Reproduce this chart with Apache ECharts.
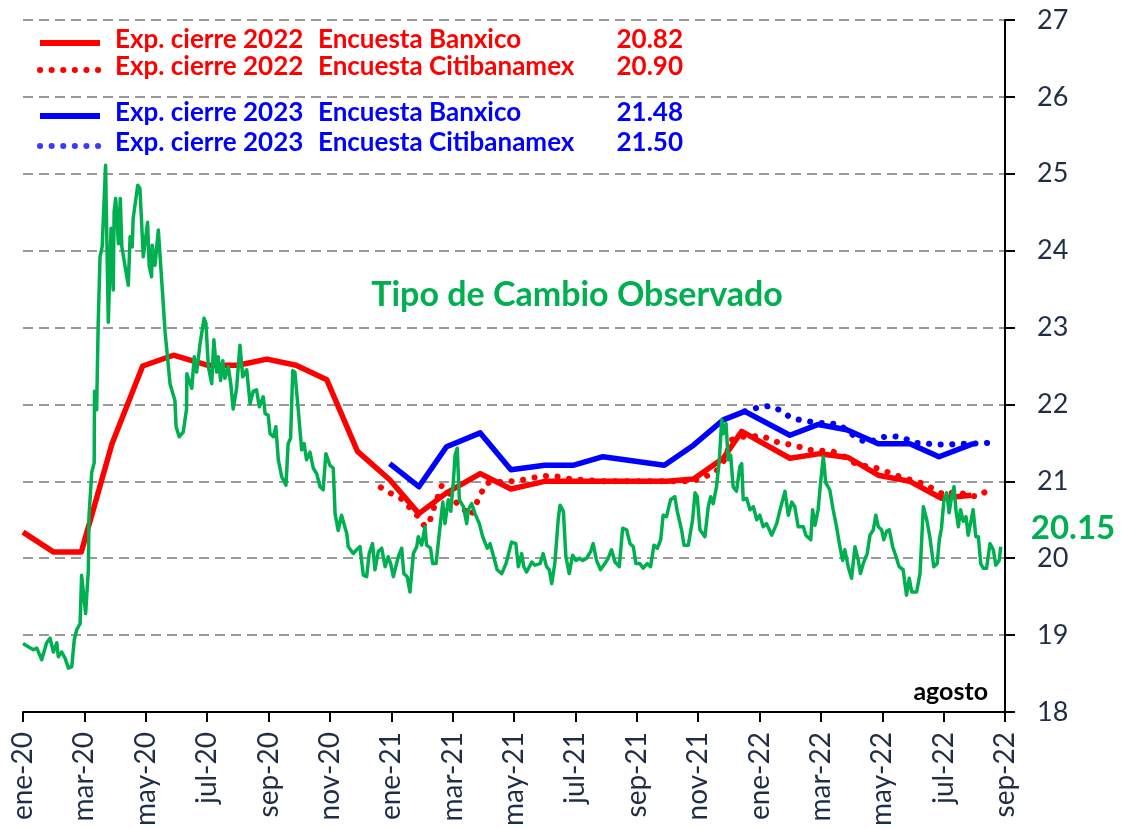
<!DOCTYPE html>
<html>
<head>
<meta charset="utf-8">
<script src="https://cdn.jsdelivr.net/npm/echarts@6/dist/echarts.min.js"></script>
<style>
html,body{margin:0;padding:0;background:#fff;}
#chart{width:1122px;height:829px;}
</style>
</head>
<body>
<div id="chart"></div>
<script>
// x values are months elapsed since 1 Jan 2020 (0 = ene-20, 32 = sep-22)
const xTickLabels = ['ene-20','mar-20','may-20','jul-20','sep-20','nov-20','ene-21','mar-21','may-21','jul-21','sep-21','nov-21','ene-22','mar-22','may-22','jul-22','sep-22'];
const yTicks = [18, 27, 1]; // min, max, step

const legendRows = [
  {a:'Exp. cierre 2022', b:'Encuesta Banxico', v:'20.82'},
  {a:'Exp. cierre 2022', b:'Encuesta Citibanamex', v:'20.90'},
  {a:'Exp. cierre 2023', b:'Encuesta Banxico', v:'21.48'},
  {a:'Exp. cierre 2023', b:'Encuesta Citibanamex', v:'21.50'}
];
const lastFx = '20.15';

const banxico2022 = [[0,20.34],[1,20.08],[1.9,20.08],[2.9,21.49],[3.9,22.50],[4.9,22.64],[6,22.51],[7,22.51],[7.95,22.59],[8.9,22.51],[9.9,22.32],[10.9,21.39],[11.95,21.02],[12.9,20.58],[13.8,20.85],[14.9,21.10],[15.9,20.90],[17,21.00],[18,21.00],[19,21.00],[20,21.00],[21,21.00],[21.85,21.03],[22.82,21.30],[23.42,21.65],[24.99,21.30],[25.97,21.36],[26.89,21.31],[27.87,21.08],[28.9,21.00],[29.93,20.78],[30.91,20.82]];

const citi2022 = [[11.66,20.92],[12.0,20.84],[12.34,20.77],[12.88,20.54],[13.1,20.41],[13.26,20.49],[13.37,20.63],[13.5,20.78],[13.64,20.94],[13.8,20.91],[14.0,20.77],[14.29,20.66],[14.59,20.55],[14.76,20.70],[14.92,20.84],[15.11,20.98],[15.89,21.00],[16.28,21.02],[16.68,21.05],[17.06,21.07],[17.47,21.06],[17.85,21.03],[19,21.0],[20.5,21.0],[21.79,21.0],[22.55,21.11],[22.82,21.25],[23.09,21.54],[23.47,21.58],[24.1,21.59],[24.47,21.52],[25.21,21.46],[25.59,21.41],[26.38,21.39],[26.73,21.33],[27.17,21.22],[27.84,21.17],[28.58,21.06],[29.34,20.97],[30.04,20.82],[30.4,20.87],[30.77,20.82],[31.13,20.80],[31.49,20.90]];

const banxico2023 = [[11.95,21.23],[12.9,20.93],[13.8,21.45],[14.9,21.63],[15.9,21.15],[17,21.21],[17.95,21.21],[18.9,21.32],[20.9,21.21],[21.85,21.47],[22.82,21.80],[23.52,21.91],[24.99,21.60],[25.92,21.74],[26.84,21.67],[27.87,21.49],[28.9,21.49],[29.85,21.32],[30.97,21.49]];

const citi2023 = [[23.52,21.91],[23.96,21.96],[24.34,21.98],[24.7,21.92],[25.01,21.83],[25.39,21.79],[25.78,21.77],[26.19,21.75],[26.57,21.75],[26.89,21.65],[27.22,21.55],[27.54,21.50],[27.92,21.57],[28.3,21.59],[28.66,21.57],[29.06,21.50],[29.45,21.49],[29.82,21.48],[30.23,21.48],[30.62,21.49],[30.96,21.49],[31.42,21.50]];

const tipoCambio = [[0,18.89],[0.17,18.85],[0.34,18.81],[0.45,18.83],[0.61,18.68],[0.77,18.90],[0.88,18.96],[0.99,18.78],[1.10,18.90],[1.15,18.72],[1.26,18.78],[1.37,18.70],[1.48,18.57],[1.59,18.59],[1.67,18.94],[1.75,19.07],[1.86,19.15],[1.91,19.78],[2.04,19.28],[2.13,19.85],[2.15,20.54],[2.24,21.12],[2.32,21.24],[2.33,22.17],[2.40,21.93],[2.45,23.05],[2.51,23.92],[2.58,24.05],[2.69,25.11],[2.78,23.07],[2.87,24.29],[2.94,23.49],[2.97,24.51],[3.02,24.68],[3.11,24.09],[3.17,24.68],[3.22,24.05],[3.43,23.55],[3.49,24.18],[3.56,24.05],[3.59,24.42],[3.74,24.85],[3.81,24.81],[3.92,23.92],[4.06,24.37],[4.11,23.81],[4.19,23.66],[4.21,24.07],[4.30,23.81],[4.41,24.27],[4.57,23.31],[4.63,22.94],[4.73,22.53],[4.79,22.27],[4.95,22.05],[4.99,21.71],[5.09,21.58],[5.22,21.64],[5.33,21.94],[5.34,22.40],[5.39,22.42],[5.50,22.21],[5.58,22.62],[5.66,22.42],[5.77,22.79],[5.90,23.12],[5.96,23.06],[6.04,22.49],[6.15,22.27],[6.22,22.84],[6.31,22.42],[6.36,22.62],[6.44,22.31],[6.51,22.57],[6.58,22.34],[6.69,22.49],[6.77,22.27],[6.85,21.94],[6.96,22.21],[7.07,22.77],[7.16,22.36],[7.29,22.45],[7.40,22.01],[7.50,22.17],[7.61,22.19],[7.70,21.97],[7.83,22.10],[7.89,21.88],[7.99,21.86],[8.05,21.62],[8.16,21.58],[8.24,21.71],[8.32,21.28],[8.43,21.06],[8.57,20.95],[8.64,21.49],[8.72,21.56],[8.79,22.44],[8.86,22.42],[8.97,21.93],[9.08,21.41],[9.16,21.49],[9.24,21.28],[9.35,21.38],[9.46,21.17],[9.57,21.10],[9.68,20.93],[9.78,20.89],[9.87,21.36],[10.00,21.21],[10.11,21.17],[10.17,20.58],[10.27,20.36],[10.38,20.56],[10.55,20.32],[10.60,20.15],[10.76,20.06],[10.87,20.11],[10.98,20.15],[11.09,19.78],[11.20,19.76],[11.28,20.06],[11.39,20.19],[11.47,19.85],[11.58,20.09],[11.69,20.13],[11.80,19.89],[11.90,20.02],[11.98,19.93],[12.07,19.76],[12.23,20.02],[12.34,20.13],[12.41,19.80],[12.52,19.76],[12.61,19.56],[12.72,20.06],[12.83,20.15],[12.88,20.28],[12.99,20.17],[13.10,20.41],[13.15,20.17],[13.28,20.13],[13.35,19.93],[13.46,19.93],[13.59,20.41],[13.68,20.73],[13.75,20.45],[13.86,20.76],[13.94,20.61],[14.02,20.98],[14.08,21.34],[14.15,21.43],[14.22,20.76],[14.35,20.67],[14.46,20.45],[14.51,20.63],[14.62,20.71],[14.73,20.58],[14.87,20.45],[14.98,20.28],[15.13,20.13],[15.22,20.19],[15.35,20.00],[15.45,19.85],[15.60,19.80],[15.74,19.93],[15.92,20.21],[16.06,20.19],[16.14,19.89],[16.25,20.06],[16.32,19.89],[16.41,19.82],[16.58,19.95],[16.68,19.91],[16.85,19.93],[16.95,20.06],[17.06,19.89],[17.15,19.85],[17.23,19.67],[17.33,19.93],[17.44,20.50],[17.50,20.69],[17.61,20.61],[17.69,20.02],[17.80,19.80],[17.91,20.04],[18.02,19.97],[18.13,20.00],[18.24,19.97],[18.37,20.00],[18.50,20.09],[18.58,20.19],[18.69,19.97],[18.82,19.85],[18.96,19.93],[19.07,20.00],[19.18,20.11],[19.29,19.95],[19.43,19.89],[19.54,20.39],[19.67,20.37],[19.78,20.19],[19.89,20.15],[19.97,19.93],[20.10,19.93],[20.21,19.87],[20.34,19.93],[20.45,19.89],[20.56,20.17],[20.67,20.13],[20.78,20.24],[20.86,20.56],[20.97,20.54],[21.10,20.76],[21.24,20.80],[21.32,20.61],[21.46,20.37],[21.54,20.17],[21.68,20.17],[21.73,20.19],[21.82,20.50],[21.90,20.85],[21.97,20.80],[22.06,20.37],[22.22,20.28],[22.33,20.67],[22.41,20.80],[22.49,20.71],[22.60,20.93],[22.69,21.28],[22.77,21.80],[22.82,21.62],[22.91,21.75],[22.98,21.28],[23.06,21.34],[23.14,20.93],[23.25,20.87],[23.36,21.19],[23.42,21.23],[23.47,20.76],[23.58,20.78],[23.69,20.63],[23.80,20.67],[23.91,20.50],[24.01,20.56],[24.12,20.41],[24.23,20.45],[24.40,20.30],[24.56,20.45],[24.67,20.63],[24.83,20.87],[24.94,20.56],[25.05,20.73],[25.15,20.67],[25.26,20.41],[25.43,20.41],[25.51,20.30],[25.67,20.24],[25.73,20.63],[25.81,20.43],[25.91,20.63],[25.99,20.98],[26.08,21.32],[26.16,20.98],[26.29,20.89],[26.40,20.63],[26.51,20.41],[26.62,20.15],[26.71,19.97],[26.78,20.11],[26.89,19.89],[27.00,19.74],[27.11,20.15],[27.22,19.97],[27.29,19.80],[27.38,19.93],[27.51,20.06],[27.60,20.30],[27.71,20.37],[27.79,20.56],[27.87,20.41],[27.98,20.37],[28.05,20.24],[28.14,20.35],[28.23,20.37],[28.34,20.15],[28.45,20.02],[28.55,19.89],[28.68,19.85],[28.79,19.52],[28.88,19.74],[28.96,19.56],[29.12,19.56],[29.23,19.80],[29.34,20.67],[29.45,20.50],[29.55,20.28],[29.68,19.89],[29.79,19.93],[29.86,20.24],[29.93,20.39],[30.01,20.76],[30.10,20.85],[30.18,20.59],[30.26,20.80],[30.34,20.93],[30.40,20.63],[30.48,20.41],[30.55,20.63],[30.64,20.48],[30.73,20.54],[30.80,20.30],[30.89,20.48],[30.96,20.63],[31.05,20.28],[31.13,20.28],[31.21,19.93],[31.29,19.87],[31.40,19.87],[31.51,20.19],[31.62,20.11],[31.70,19.91],[31.81,19.97],[31.86,20.15]];

const RED = '#FF0000', BLUE = '#0000FF', BLUE_DOT = '#3B3BFF', GREEN = '#00B050', NAVY = '#1F2D45';
const LEG_FONT = 'bold 26px Lato';

const chart = echarts.init(document.getElementById('chart'), null, {renderer:'canvas'});

function legendGraphics(){
  const rowsY = [40, 67, 113, 143];
  const styles = [
    {c:RED, dash:null}, {c:RED, dash:[0.1,11.5]}, {c:BLUE, dash:null}, {c:BLUE_DOT, dash:[0.1,11.5]}
  ];
  const textColors = [RED, RED, BLUE, BLUE];
  const g = [];
  legendRows.forEach((r,i)=>{
    const y = rowsY[i];
    g.push({type:'line', shape:{x1:40,y1:y+3,x2:100,y2:y+3},
      style:{stroke:styles[i].c, lineWidth:6, lineDash:styles[i].dash, lineCap: styles[i].dash?'round':'butt'}});
    g.push({type:'text', x:115, y:y, style:{text:r.a, font:LEG_FONT, fill:textColors[i], textVerticalAlign:'middle'}});
    g.push({type:'text', x:318, y:y, style:{text:r.b, font:LEG_FONT, fill:textColors[i], textVerticalAlign:'middle'}});
    g.push({type:'text', x:683, y:y, style:{text:r.v, font:LEG_FONT, fill:textColors[i], textAlign:'right', textVerticalAlign:'middle'}});
  });
  g.push({type:'text', x:577, y:295, style:{text:'Tipo de Cambio Observado', font:'bold 34px Lato', fill:GREEN, textAlign:'center', textVerticalAlign:'middle'}});
  g.push({type:'text', x:1073, y:528, style:{text:lastFx, font:'bold 33px Lato', fill:GREEN, textAlign:'center', textVerticalAlign:'middle'}});
  g.push({type:'text', x:988, y:692, style:{text:'agosto', font:'bold 25px Lato', fill:'#000', textAlign:'right', textVerticalAlign:'middle'}});
  return g;
}

function lineSeries(name, data, color, width, dash, z){
  return {
    name, type:'line', data, showSymbol:false, symbol:'none', z,
    lineStyle:{color, width, type: dash || 'solid', cap: dash ? 'round' : 'butt', join:'round'},
    emphasis:{disabled:true}, silent:true
  };
}

chart.setOption({
  animation:false,
  backgroundColor:'#fff',
  grid:{left:23, right:117, top:20, bottom:117, containLabel:false},
  xAxis:{
    type:'value', min:0, max:32, interval:2,
    axisLine:{show:true, onZero:false, lineStyle:{color:'#000', width:2}},
    axisTick:{show:true, length:10, lineStyle:{color:'#000', width:2}},
    splitLine:{show:false},
    axisLabel:{rotate:90, margin:20, fontSize:28, fontFamily:'Lato', color:NAVY,
      formatter:(v)=> xTickLabels[Math.round(v/2)] || ''}
  },
  yAxis:{
    type:'value', position:'right', min:yTicks[0], max:yTicks[1], interval:yTicks[2],
    axisLine:{show:true, onZero:false, lineStyle:{color:'#000', width:2}},
    axisTick:{show:true, length:10, lineStyle:{color:'#000', width:2}},
    splitLine:{show:true, lineStyle:{color:'#999999', width:2, type:[10,6]}},
    axisLabel:{margin:32, fontSize:27, fontFamily:'Lato', color:NAVY}
  },
  graphic: legendGraphics(),
  series:[
    lineSeries('Exp. cierre 2022 Encuesta Banxico', banxico2022, RED, 5.5, null, 2),
    lineSeries('Exp. cierre 2023 Encuesta Banxico', banxico2023, BLUE, 5.5, null, 3),
    lineSeries('Exp. cierre 2022 Encuesta Citibanamex', citi2022, RED, 6, [0.1,11.5], 4),
    lineSeries('Exp. cierre 2023 Encuesta Citibanamex', citi2023, BLUE, 6, [0.1,11.5], 5),
    lineSeries('Tipo de Cambio Observado', tipoCambio, GREEN, 3.5, null, 6)
  ]
});
</script>
</body>
</html>
